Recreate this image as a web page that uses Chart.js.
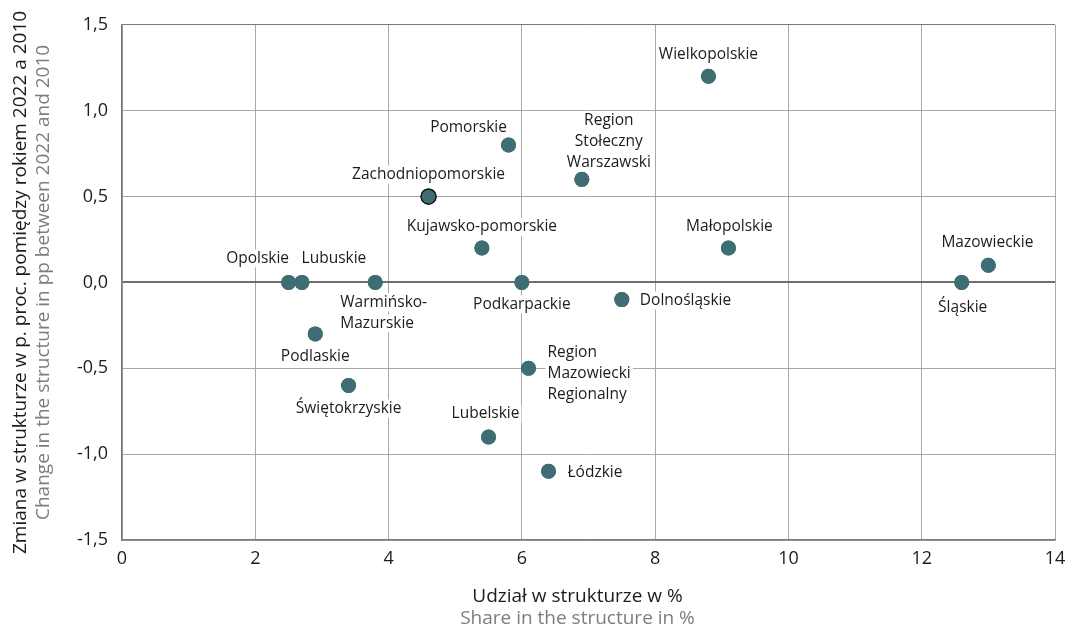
<!DOCTYPE html>
<html>
<head>
<meta charset="utf-8">
<script src="https://cdn.jsdelivr.net/npm/chart.js@4.4.1/dist/chart.umd.min.js"></script>
<style>
  html, body { margin: 0; padding: 0; background: #fff; }
  #wrap { width: 1077px; height: 632px; position: relative; }
</style>
</head>
<body>
<div id="wrap"><canvas id="chart"></canvas></div>
<script>
// dane
const regions = [
  'Opolskie', 'Lubuskie', 'Warmińsko-Mazurskie', 'Podlaskie', 'Świętokrzyskie',
  'Zachodniopomorskie', 'Kujawsko-pomorskie', 'Pomorskie', 'Region Stołeczny Warszawski',
  'Wielkopolskie', 'Małopolskie', 'Mazowieckie', 'Śląskie', 'Dolnośląskie',
  'Podkarpackie', 'Region Mazowiecki Regionalny', 'Lubelskie', 'Łódzkie'
];
const shareX = [2.5, 2.7, 3.8, 2.9, 3.4, 4.6, 5.4, 5.8, 6.9, 8.8, 9.1, 13.0, 12.6, 7.5, 6.0, 6.1, 5.5, 6.4];
const changeY = [0.0, 0.0, 0.0, -0.3, -0.6, 0.5, 0.2, 0.8, 0.6, 1.2, 0.2, 0.1, 0.0, -0.1, 0.0, -0.5, -0.9, -1.1];
const xTicks = [0, 2, 4, 6, 8, 10, 12, 14];
const yTicks = [-1.5, -1.0, -0.5, 0.0, 0.5, 1.0, 1.5];

// etykiety punktów: linie tekstu i położenie względem punktu
const labelLines = [
  ['Opolskie'], ['Lubuskie'], ['Warmińsko-', 'Mazurskie'], ['Podlaskie'], ['Świętokrzyskie'],
  ['Zachodniopomorskie'], ['Kujawsko-pomorskie'], ['Pomorskie'], ['Region', 'Stołeczny', 'Warszawski'],
  ['Wielkopolskie'], ['Małopolskie'], ['Mazowieckie'], ['Śląskie'], ['Dolnośląskie'],
  ['Podkarpackie'], ['Region', 'Mazowiecki', 'Regionalny'], ['Lubelskie'], ['Łódzkie']
];
const labelPlace = [
  { align: 'center', dx: -31, dy: -24 },
  { align: 'center', dx: 32, dy: -24 },
  { align: 'left', dx: -35, dy: 20 },
  { align: 'center', dx: 0, dy: 23 },
  { align: 'center', dx: 0, dy: 23 },
  { align: 'center', dx: 0, dy: -22 },
  { align: 'center', dx: 0, dy: -21 },
  { align: 'center', dx: -40, dy: -17 },
  { align: 'center', dx: 27, dy: -59 },
  { align: 'center', dx: 0, dy: -22 },
  { align: 'center', dx: 1, dy: -21 },
  { align: 'center', dx: -1, dy: -23 },
  { align: 'center', dx: 1, dy: 25 },
  { align: 'left', dx: 18, dy: 1 },
  { align: 'center', dx: 0, dy: 22 },
  { align: 'left', dx: 19, dy: -16 },
  { align: 'center', dx: -3, dy: -23 },
  { align: 'left', dx: 19, dy: 1 }
];

const FONT = '"Open Sans", "Noto Sans", sans-serif';
const pointColor = '#3e6e74';
const gridColor = '#a8a8a8';
const frameColor = '#7a7a7a';
const textColor = '#1e1b1c';
const fmt = v => v.toFixed(1).replace('.', ',');

// rysowanie etykiet punktów
const pointLabels = {
  id: 'pointLabels',
  afterDatasetsDraw(chart) {
    const c = chart.ctx;
    const meta = chart.getDatasetMeta(0);
    c.save();
    c.font = '15.5px ' + FONT;
    c.textBaseline = 'middle';
    const lh = 21;
    meta.data.forEach((pt, i) => {
      const p = labelPlace[i];
      const lines = labelLines[i];
      c.textAlign = p.align;
      lines.forEach((t, j) => {
        const x = pt.x + p.dx;
        const y = pt.y + p.dy + j * lh;
        const w = c.measureText(t).width;
        const left = p.align === 'center' ? x - w / 2 : x;
        c.fillStyle = '#fff';
        c.fillRect(left - 2, y - 9, w + 4, 18);
        c.fillStyle = textColor;
        c.fillText(t, x, y);
      });
    });
    c.restore();
  },
  // punkty nad etykietami
  afterDraw(chart) {
    chart.getDatasetMeta(0).data.forEach(pt => pt.draw(chart.ctx));
  }
};

// dwujęzyczne tytuły osi
const axisTitles = {
  id: 'axisTitles',
  afterDraw(chart) {
    const c = chart.ctx;
    const a = chart.chartArea;
    c.save();
    c.textAlign = 'center';
    c.textBaseline = 'middle';
    c.font = '19px ' + FONT;
    const cx = (a.left + a.right) / 2 - 11;
    c.fillStyle = textColor;
    c.fillText('Udział w strukturze w %', cx, 597);
    c.fillStyle = '#7d7d7d';
    c.fillText('Share in the structure in %', cx, 619);

    const cy = (a.top + a.bottom) / 2;
    c.translate(21, cy);
    c.rotate(-Math.PI / 2);
    c.fillStyle = textColor;
    c.fillText('Zmiana w strukturze w p. proc. pomiędzy rokiem 2022 a 2010', 0, 0);
    c.fillStyle = '#7d7d7d';
    c.fillText('Change in the structure in pp between 2022 and 2010', 0, 23);
    c.restore();
  }
};

new Chart(document.getElementById('chart'), {
  type: 'scatter',
  data: {
    datasets: [{
      data: shareX.map((x, i) => ({ x: x, y: changeY[i] })),
      backgroundColor: pointColor,
      borderColor: regions.map(r => r === 'Zachodniopomorskie' ? '#111' : pointColor),
      borderWidth: regions.map(r => r === 'Zachodniopomorskie' ? 1.2 : 0),
      pointRadius: 7.5,
      pointHoverRadius: 7.5
    }]
  },
  options: {
    responsive: true,
    maintainAspectRatio: false,
    animation: false,
    layout: { padding: { top: 20, right: 22, left: 0, bottom: 0 } },
    plugins: {
      legend: { display: false },
      tooltip: { enabled: false }
    },
    scales: {
      x: {
        type: 'linear',
        min: 0,
        max: 14,
        afterBuildTicks: s => { s.ticks = xTicks.map(v => ({ value: v })); },
        afterFit: s => { s.height = 92; },
        ticks: {
          color: textColor,
          font: { size: 18, family: FONT },
          padding: 8,
          callback: v => String(v)
        },
        grid: { color: gridColor, lineWidth: 1, drawTicks: false },
        border: { color: frameColor, width: 1.5 }
      },
      y: {
        type: 'linear',
        min: -1.5,
        max: 1.5,
        afterBuildTicks: s => { s.ticks = yTicks.map(v => ({ value: v })); },
        afterFit: s => { s.width = 122; },
        ticks: {
          color: textColor,
          font: { size: 18, family: FONT },
          padding: 14,
          callback: v => fmt(v)
        },
        grid: {
          color: c => c.tick && c.tick.value === 0 ? '#6e6e6e' : (c.tick && c.tick.value === 1.5 ? frameColor : gridColor),
          lineWidth: c => c.tick && c.tick.value === 0 ? 2 : 1,
          drawTicks: false
        },
        border: { color: frameColor, width: 1.5 }
      }
    }
  },
  plugins: [pointLabels, axisTitles]
});
</script>
</body>
</html>
